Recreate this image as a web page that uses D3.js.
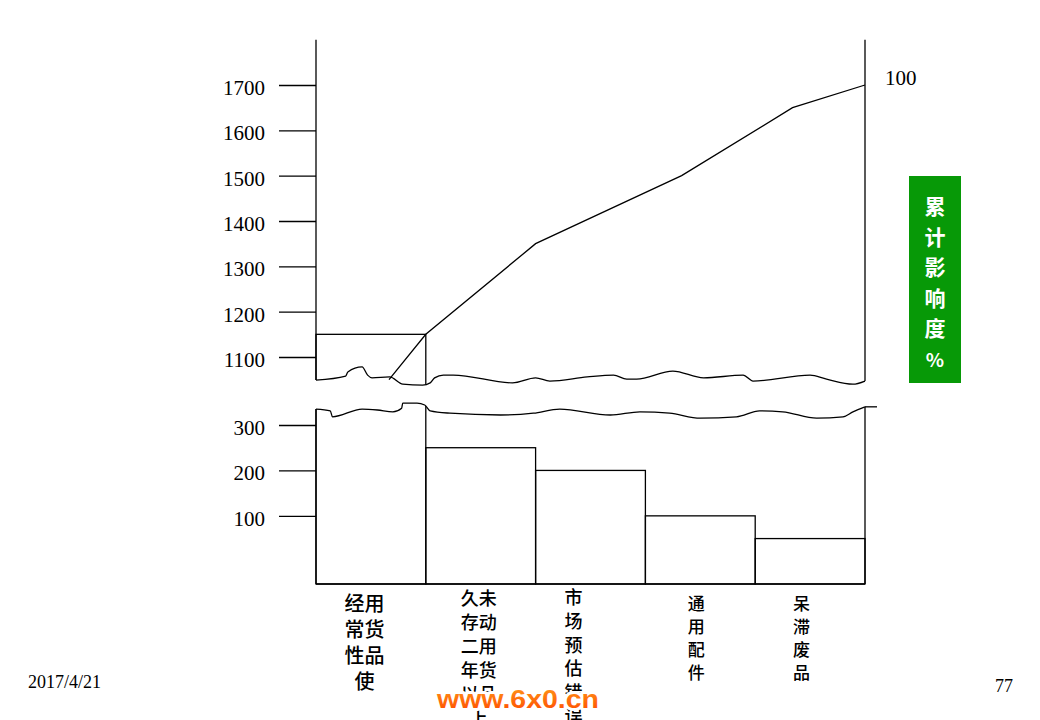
<!DOCTYPE html>
<html>
<head>
<meta charset="utf-8">
<script src="https://cdn.jsdelivr.net/npm/d3@7/dist/d3.min.js"></script>
<style>
  html, body { margin: 0; padding: 0; background: #fff; }
  svg { display: block; }
</style>
</head>
<body>
<svg id="chart" width="1040" height="720"></svg>
<script>
// ---------------- data ----------------
const categories = [
  "经用\n常货\n性品\n使",
  "久未\n存动\n二用\n年货\n以品\n上",
  "市\n场\n预\n估\n错\n误",
  "通\n用\n配\n件",
  "呆\n滞\n废\n品"
];
const values = [1150, 250, 200, 100, 50];
// cumulative curve: position along category axis (0..5) and value on the upper scale
const cumPositions = [0.665, 1, 2, 3.33, 4.34, 5];
const cumValues = [1050, 1150, 1350, 1500, 1650, 1700];
const upperTicks = [1100, 1200, 1300, 1400, 1500, 1600, 1700];
const lowerTicks = [100, 200, 300];
const pctTickLabels = ["100"];
const sideTitle = ["累", "计", "影", "响", "度", "%"];
const dateText = "2017/4/21";
const pageText = "77";
const watermark = "www.6x0.cn";
// axis-break squiggles: [category position, value on the panel's scale]
const upperBreak = [[0,1049],[0.27,1058],[0.29,1067],[0.42,1078],[0.47,1060],[0.51,1054],[0.67,1056],[0.79,1040],[0.97,1038],[1.04,1043],[1.08,1054],[1.16,1060],[1.25,1060],[1.79,1043],[2.0,1054],[2.13,1047],[2.47,1056],[2.71,1060],[2.83,1051],[2.92,1051],[3.25,1069],[3.53,1054],[3.89,1060],[3.98,1047],[4.5,1060],[4.65,1051],[4.89,1040],[5,1047]];
const lowerBreak = [[0,335],[0.13,331],[0.15,318],[0.42,335],[0.56,333],[0.70,329],[0.78,337],[0.79,348],[0.92,348],[0.99,344],[1.04,331],[1.22,326],[1.68,322],[1.98,326],[2.22,335],[2.68,322],[2.95,329],[3.22,326],[3.5,315],[3.83,318],[4.04,331],[4.25,329],[4.56,315],[4.8,318],[4.89,329],[5,340]];

// ---------------- layout / style ----------------
const W = 1040, H = 720;
const left = 316, right = 865, bottom = 584;
const labelDx = [-6.5, -2, -17, -4, -8.5];
const labelStyle = [
  {size: 20, lh: 26.3, y0: 602},
  {size: 18, lh: 24, y0: 597},
  {size: 18, lh: 23.8, y0: 596},
  {size: 17, lh: 23, y0: 602},
  {size: 17, lh: 23, y0: 602}
];
const serif = "'Liberation Serif', 'Times New Roman', serif";
const cjk = "'Noto Sans CJK SC', sans-serif";

const svg = d3.select("#chart");
svg.append("rect").attr("width", W).attr("height", H).attr("fill", "#fff");

const x = d3.scaleLinear().domain([0, categories.length]).range([left, right]);
const band = d3.scaleBand().domain(d3.range(categories.length)).range([left, right]).padding(0);
const yUp = d3.scaleLinear().domain([1100, 1700]).range([357, 85]);
const yLow = d3.scaleLinear().domain([-50, 300]).range([bottom, 425]);
const lowerMax = 350;

const waveUp = d3.line().x(d => x(d[0])).y(d => yUp(d[1])).curve(d3.curveMonotoneX);
const waveLow = d3.line().x(d => x(d[0])).y(d => yLow(d[1])).curve(d3.curveMonotoneX);

// clip paths
const defs = svg.append("defs");
const upFirst = yUp(upperBreak[0][1]), upLast = yUp(upperBreak[upperBreak.length - 1][1]);
defs.append("clipPath").attr("id", "clipUp").append("path")
  .attr("d", `M0,0L0,${upFirst}L${left},${upFirst}` + waveUp(upperBreak).replace(/^M/, "L") + `L${W},${upLast}L${W},0Z`);
const lowFirst = yLow(lowerBreak[0][1]), lowLast = yLow(lowerBreak[lowerBreak.length - 1][1]);
defs.append("clipPath").attr("id", "clipLow").append("path")
  .attr("d", `M0,${H}L0,${lowFirst}L${left},${lowFirst}` + waveLow(lowerBreak).replace(/^M/, "L") + `L${W},${lowLast}L${W},${H}Z`);

const stroke = "#000", sw = 1.3;

// ---------- upper panel ----------
const gUp = svg.append("g").attr("clip-path", "url(#clipUp)");
[left, right].forEach(px => {
  gUp.append("line").attr("x1", px).attr("x2", px)
    .attr("y1", yUp(1800)).attr("y2", bottom)
    .attr("stroke", stroke).attr("stroke-width", sw);
});
gUp.selectAll("rect.barUp").data(values.map((v, i) => ({v, i})).filter(d => d.v > lowerMax))
  .join("rect").attr("class", "barUp")
  .attr("x", d => band(d.i)).attr("width", band.bandwidth())
  .attr("y", d => yUp(d.v)).attr("height", d => bottom - yUp(d.v))
  .attr("fill", "none").attr("stroke", stroke).attr("stroke-width", sw);

// ---------- lower panel ----------
const gLow = svg.append("g").attr("clip-path", "url(#clipLow)");
[left, right].forEach(px => {
  gLow.append("line").attr("x1", px).attr("x2", px)
    .attr("y1", yUp(1800)).attr("y2", bottom)
    .attr("stroke", stroke).attr("stroke-width", sw);
});
gLow.selectAll("rect.bar").data(values.map((v, i) => ({v, i})))
  .join("rect").attr("class", "bar")
  .attr("x", d => band(d.i)).attr("width", band.bandwidth())
  .attr("y", d => d.v > lowerMax ? yUp(d.v) : yLow(d.v))
  .attr("height", d => bottom - (d.v > lowerMax ? yUp(d.v) : yLow(d.v)))
  .attr("fill", "none").attr("stroke", stroke).attr("stroke-width", sw);

// baseline
svg.append("line").attr("x1", left).attr("x2", right).attr("y1", bottom).attr("y2", bottom)
  .attr("stroke", stroke).attr("stroke-width", sw);

// break squiggles
svg.append("path").attr("d", waveUp(upperBreak)).attr("fill", "none")
  .attr("stroke", stroke).attr("stroke-width", sw);
svg.append("path").attr("d", waveLow(lowerBreak)).attr("fill", "none")
  .attr("stroke", stroke).attr("stroke-width", sw);
svg.append("line").attr("x1", right).attr("x2", right + 12)
  .attr("y1", lowLast).attr("y2", lowLast).attr("stroke", stroke).attr("stroke-width", sw);

// cumulative line
const cumLine = d3.line().x(d => x(d[0])).y(d => yUp(d[1]));
svg.append("path").attr("d", cumLine(cumPositions.map((p, i) => [p, cumValues[i]])))
  .attr("fill", "none").attr("stroke", stroke).attr("stroke-width", sw);

// axes
function styleAxis(g) {
  g.select(".domain").remove();
  g.selectAll(".tick line").attr("stroke", stroke).attr("stroke-width", sw);
  g.selectAll(".tick text").attr("fill", "#000").style("font-family", serif)
    .style("font-size", "21px").attr("dy", "0.45em");
}
svg.append("g").attr("transform", `translate(${left},0)`)
  .call(d3.axisLeft(yUp).tickValues(upperTicks).tickSize(37).tickPadding(14).tickFormat(d3.format("d")))
  .call(styleAxis);
svg.append("g").attr("transform", `translate(${left},0)`)
  .call(d3.axisLeft(yLow).tickValues(lowerTicks).tickSize(37).tickPadding(14).tickFormat(d3.format("d")))
  .call(styleAxis);

// right percent label
svg.append("text").attr("x", right + 20).attr("y", yUp(cumValues[cumValues.length - 1]) - 5)
  .attr("dominant-baseline", "middle")
  .style("font-family", serif).style("font-size", "21px").text(pctTickLabels[0]);

// side title box
svg.append("rect").attr("x", 909).attr("y", 176).attr("width", 52).attr("height", 207).attr("fill", "#079907");
svg.append("g").selectAll("text").data(sideTitle).join("text")
  .attr("x", 935).attr("y", (d, i) => 205 + i * 30.6)
  .attr("text-anchor", "middle").attr("dominant-baseline", "central")
  .attr("fill", "#fff").style("font-family", cjk).style("font-weight", "bold")
  .style("font-size", (d) => d === "%" ? "19px" : "21px")
  .text(d => d);

// category labels (vertical rows)
categories.forEach((c, i) => {
  const rows = c.split("\n");
  const st = labelStyle[i];
  svg.append("g").selectAll("text").data(rows).join("text")
    .attr("x", band(i) + band.bandwidth() / 2 + labelDx[i])
    .attr("y", (d, j) => st.y0 + j * st.lh)
    .attr("text-anchor", "middle").attr("dominant-baseline", "central")
    .style("font-family", cjk).style("font-size", st.size + "px").style("font-weight", 500)
    .attr("fill", "#000")
    .text(d => d);
});

// footer
svg.append("text").attr("x", 28).attr("y", 688)
  .style("font-family", serif).style("font-size", "18px").text(dateText);
svg.append("text").attr("x", 995).attr("y", 692)
  .style("font-family", serif).style("font-size", "18px").text(pageText);

// watermark
const grad = defs.append("linearGradient").attr("id", "wm").attr("x1", 0).attr("y1", 0).attr("x2", 0).attr("y2", 1);
grad.append("stop").attr("offset", "0%").attr("stop-color", "#ff9a1a");
grad.append("stop").attr("offset", "100%").attr("stop-color", "#ff4a00");
svg.append("text").attr("x", 437).attr("y", 708)
  .attr("textLength", 162).attr("lengthAdjust", "spacingAndGlyphs")
  .style("font-family", "'Liberation Sans', Arial, sans-serif").style("font-weight", "bold")
  .style("font-size", "25px")
  .attr("fill", "url(#wm)").attr("stroke", "#fff").attr("stroke-width", 6)
  .attr("paint-order", "stroke").attr("stroke-linejoin", "round")
  .text(watermark);
</script>
</body>
</html>
